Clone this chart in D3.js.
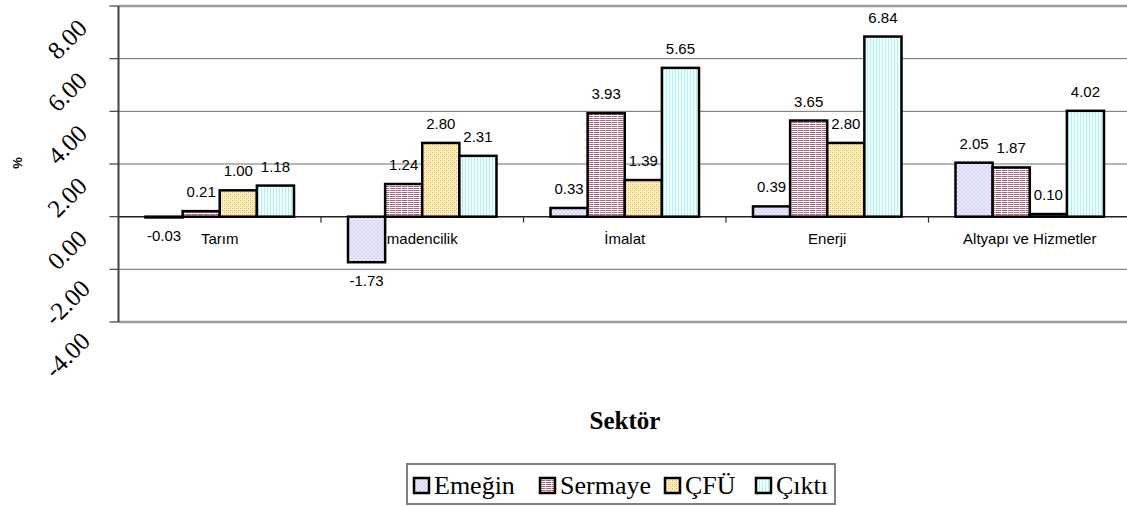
<!DOCTYPE html>
<html><head><meta charset="utf-8">
<script src="https://cdn.jsdelivr.net/npm/d3@7"></script>
<style>body{margin:0;background:#fff;}svg{display:block;}</style>
</head><body>
<svg id="c" width="1127" height="506"></svg>
<script>
const categories = ["Tarım", "madencilik", "İmalat", "Enerji", "Altyapı ve Hizmetler"];
const seriesNames = ["Emeğin", "Sermaye", "ÇFÜ", "Çıktı"];
const emegin  = [-0.03, -1.73, 0.33, 0.39, 2.05];
const sermaye = [0.21, 1.24, 3.93, 3.65, 1.87];
const cfu     = [1.00, 2.80, 1.39, 2.80, 0.10];
const cikti   = [1.18, 2.31, 5.65, 6.84, 4.02];
const yTicks  = [-4, -2, 0, 2, 4, 6, 8];
const yTickLabels = ["-4.00", "-2.00", "0.00", "2.00", "4.00", "6.00", "8.00"];
const seriesValues = [emegin, sermaye, cfu, cikti];

const svg = d3.select("#c");
const defs = svg.append("defs");

function pat(id, w, h, bg, draw) {
  const p = defs.append("pattern").attr("id", id).attr("patternUnits", "userSpaceOnUse")
    .attr("width", w).attr("height", h);
  p.append("rect").attr("width", w).attr("height", h).attr("fill", bg);
  draw(p);
}
pat("pE", 4, 4, "#d4d4fb", p => {
  p.append("path").attr("d", "M0,4 L4,0 M0,0 L4,4").attr("stroke", "#f4f4ff").attr("stroke-width", 0.8);
});
pat("pS", 6, 2, "#ffffff", p => {
  p.append("rect").attr("x", 0).attr("y", 0).attr("width", 6).attr("height", 1).attr("fill", "#b0607f");
  p.append("rect").attr("x", 5).attr("y", 0).attr("width", 1).attr("height", 1).attr("fill", "#e2bccb");
});
pat("pC", 4, 4, "#fff6d0", p => {
  p.append("rect").attr("x", 0).attr("y", 0).attr("width", 1.2).attr("height", 1.2).attr("fill", "#ffa838");
  p.append("rect").attr("x", 2).attr("y", 2).attr("width", 1.2).attr("height", 1.2).attr("fill", "#ffa838");
  p.append("rect").attr("x", 2).attr("y", 0).attr("width", 1).attr("height", 1).attr("fill", "#ffd890");
  p.append("rect").attr("x", 0).attr("y", 2).attr("width", 1).attr("height", 1).attr("fill", "#ffd890");
});
pat("pK", 3, 4, "#f0ffff", p => {
  p.append("rect").attr("x", 0).attr("y", 0).attr("width", 1).attr("height", 4).attr("fill", "#b4f0f0");
});
const fills = ["url(#pE)", "url(#pS)", "url(#pC)", "url(#pK)"];

const left = 118.5, catW = 202.5;
const x0 = d3.scaleBand().domain(categories).range([left, left + catW * categories.length]).padding(0);
const x1 = d3.scaleBand().domain(seriesNames).range([27, 175.5]).padding(0);
const y = d3.scaleLinear().domain([-4, 8]).range([322, 6]);

const g = svg.append("g");
g.selectAll("line.grid").data(yTicks.filter(v => v > -4 && v < 8)).join("line")
  .attr("x1", left).attr("x2", 1127).attr("y1", d => y(d)).attr("y2", d => y(d))
  .attr("stroke", d => d === 0 ? "#202020" : "#6e6e6e").attr("stroke-width", d => d === 0 ? 1.5 : 1);
[8, -4].forEach(v => {
  g.append("line").attr("x1", left).attr("x2", 1127).attr("y1", y(v)).attr("y2", y(v))
    .attr("stroke", "#9a9a9a").attr("stroke-width", 2.5);
});
g.append("line").attr("x1", left).attr("x2", left).attr("y1", y(8)).attr("y2", y(-4))
  .attr("stroke", "#404040").attr("stroke-width", 2);
g.selectAll("line.yt").data(yTicks).join("line")
  .attr("x1", left - 9).attr("x2", left).attr("y1", d => y(d)).attr("y2", d => y(d))
  .attr("stroke", "#404040").attr("stroke-width", 1.2);
g.selectAll("line.xt").data(categories.slice(1)).join("line")
  .attr("x1", d => x0(d)).attr("x2", d => x0(d)).attr("y1", y(0)).attr("y2", y(0) + 6)
  .attr("stroke", "#303030").attr("stroke-width", 1.2);

svg.append("g").selectAll("text").data(yTicks).join("text")
  .attr("transform", d => `translate(67,${y(d) + 33}) rotate(-45)`)
  .attr("text-anchor", "middle").attr("dy", "0.35em")
  .attr("font-family", "'Liberation Serif','Times New Roman',serif").attr("font-size", 25)
  .text((d, i) => yTickLabels[i]);

svg.append("text").attr("transform", "translate(17,163) rotate(-90)")
  .attr("text-anchor", "middle").attr("dy", "0.35em")
  .attr("font-family", "'Liberation Sans',Arial,sans-serif").attr("font-weight", "bold").attr("font-size", 13)
  .text("%");

svg.append("g").selectAll("text").data(categories).join("text")
  .attr("x", d => x0(d) + catW / 2).attr("y", 244)
  .attr("text-anchor", "middle")
  .attr("font-family", "'Liberation Sans',Arial,sans-serif").attr("font-size", 15)
  .text(d => d);

const bars = svg.append("g");
seriesNames.forEach((s, si) => {
  const vals = seriesValues[si];
  bars.append("g").selectAll("rect").data(categories.map((c, ci) => ({c, v: vals[ci]}))).join("rect")
    .attr("x", d => x0(d.c) + x1(s)).attr("width", x1.bandwidth())
    .attr("y", d => y(Math.max(0, d.v))).attr("height", d => Math.abs(y(d.v) - y(0)))
    .attr("fill", fills[si]).attr("stroke", "#000").attr("stroke-width", 2.5);
});
const lab = svg.append("g");
seriesNames.forEach((s, si) => {
  const vals = seriesValues[si];
  lab.append("g").selectAll("text").data(categories.map((c, ci) => ({c, v: vals[ci]}))).join("text")
    .attr("x", d => x0(d.c) + x1(s) + x1.bandwidth() / 2)
    .attr("y", d => d.v >= 0 ? y(d.v) - 14 : y(d.v) + 23.5)
    .attr("text-anchor", "middle")
    .attr("font-family", "'Liberation Sans',Arial,sans-serif").attr("font-size", 15)
    .text(d => d.v.toFixed(2));
});

svg.append("text").attr("x", 625).attr("y", 429).attr("text-anchor", "middle")
  .attr("font-family", "'Liberation Serif','Times New Roman',serif").attr("font-weight", "bold").attr("font-size", 25)
  .text("Sektör");

const lg = svg.append("g");
lg.append("rect").attr("x", 407).attr("y", 464).attr("width", 428).attr("height", 40)
  .attr("fill", "#fff").attr("stroke", "#808080").attr("stroke-width", 2);
const legX = [414, 540, 665, 756];
seriesNames.forEach((s, i) => {
  lg.append("rect").attr("x", legX[i]).attr("y", 478).attr("width", 15).attr("height", 15)
    .attr("fill", fills[i]).attr("stroke", "#000").attr("stroke-width", 2.5);
  lg.append("text").attr("x", legX[i] + 20).attr("y", 494)
    .attr("font-family", "'Liberation Serif','Times New Roman',serif").attr("font-size", 26)
    .text(s);
});
</script>
</body></html>
